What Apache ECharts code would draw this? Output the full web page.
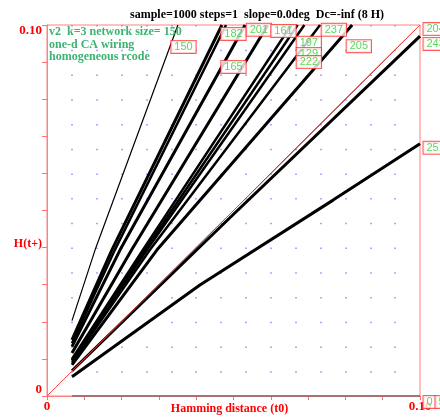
<!DOCTYPE html>
<html><head><meta charset="utf-8">
<script src="https://cdn.jsdelivr.net/npm/echarts@6/dist/echarts.min.js"></script>
<style>html,body{margin:0;padding:0;background:#fff}#c{width:440px;height:418px}</style>
</head><body><div id="c"></div>
<script>
// ---- data ----
const xTickLabels = ['0', '0.10'];
const yTickLabels = ['0', '0.10'];
const rule150 = [[0.0067,0.0203],[0.0129,0.0394],[0.0351,0.100]];
const rule182 = [[0.0067,0.0151],[0.0174,0.0394],[0.0469,0.100]];
const rule165 = [[0.0067,0.0142],[0.0182,0.0394],[0.0480,0.100]];
const rule201 = [[0.0067,0.0133],[0.0196,0.0394],[0.0531,0.100]];
const rule161 = [[0.0067,0.0116],[0.0227,0.0394],[0.0592,0.100]];
const rule197 = [[0.0067,0.0100],[0.0257,0.0394],[0.0655,0.100]];
const rule129 = [[0.0067,0.0097],[0.0263,0.0394],[0.0672,0.100]];
const rule222 = [[0.0067,0.0095],[0.0268,0.0394],[0.0690,0.100]];
const rule237 = [[0.0067,0.0090],[0.0276,0.0394],[0.0732,0.100]];
const rule205 = [[0.0067,0.0084],[0.0295,0.0394],[0.0818,0.100]];
const rule243 = [[0.0067,0.0068],[0.0500,0.0490],[0.1000,0.0970]];
const rule204 = [[0.0067,0.0067],[0.1000,0.1000]];
const rule251 = [[0.0067,0.0052],[0.0410,0.0299],[0.0767,0.0528],[0.1000,0.0680]];
const rule0   = [[0.0067,0.0],[0.1000,0.0]];
const diagonal = [[0,0],[0.1,0.1]];
// rule label boxes: name, anchor x, anchor y (data units)
const labelNames = ['150','182','165','201','161','197','129','222','237','205','204','243','251','0','5'];
const labelX = [0.0332,0.0466,0.0466,0.0534,0.0600,0.0668,0.0668,0.0668,0.0735,0.0802,0.1008,0.1008,0.1008,0.1008,0.1040];
const labelY = [0.0941,0.0976,0.0887,0.0987,0.0984,0.0952,0.0922,0.0900,0.0987,0.0943,0.0989,0.0949,0.0669,-0.0016,-0.0016];
// ---------------------------------------

const serif = '"Liberation Serif", "DejaVu Serif", serif';
const chart = echarts.init(document.getElementById('c'), null, {renderer:'canvas'});

function ruleLine(name, data, width) {
  return {name, type:'line', data, symbol:'none', silent:true, z:3,
    lineStyle:{color:'#000', width: width}, animation:false};
}

const labelData = labelNames.map((n,i)=>({name:n, value:[labelX[i], labelY[i]]}));

const option = {
  animation:false,
  backgroundColor:'#fff',
  title:{text:'sample=1000 steps=1  slope=0.0deg  Dc=-inf (8 H)', left:125, top:4,
    textStyle:{fontFamily:serif, fontWeight:'bold', fontSize:12, color:'#000'}},
  grid:{left:47, right:20, top:25, bottom:22, containLabel:false, outerBoundsMode:'none',
    show:true, borderColor:'#ff8080', borderWidth:1, backgroundColor:'#fff'},
  graphic:[{type:'text', left:49, top:26, z:10,
    style:{text:'v2  k=3 network size= 150\none-d CA wiring\nhomogeneous rcode',
      fill:'#3cb371', font:'bold 12px ' + serif, lineHeight:12.3}}],
  xAxis:[{
    type:'value', min:0, max:0.1, interval:0.01,
    axisLine:{show:true, lineStyle:{color:'#ff8080'}},
    axisTick:{show:true, length:4, inside:false, lineStyle:{color:'#ff7070'}},
    splitLine:{show:false},
    axisLabel:{showMinLabel:true, showMaxLabel:true, margin:4,
      formatter:(v)=> v===0 ? xTickLabels[0] : (Math.abs(v-0.1)<1e-9 ? xTickLabels[1] : ''),
      color:'#ff0000', fontFamily:serif, fontWeight:'bold', fontSize:13},
    name:'Hamming distance (t0)', nameLocation:'middle', nameGap:13, nameMoveOverlap:false,
    nameTextStyle:{color:'#ff0000', fontFamily:serif, fontWeight:'bold', fontSize:12, verticalAlign:'middle', padding:[0,8,0,0]}
  },{
    type:'value', min:0, max:15, interval:1, position:'bottom',
    axisLine:{show:false}, axisTick:{show:false}, axisLabel:{show:false},
    splitLine:{show:true, showMinLine:false, showMaxLine:false,
      lineStyle:{color:'#8c8cff', width:1.5, type:[1.5, 23.23], dashOffset:0}}
  }],
  yAxis:[{
    type:'value', min:0, max:0.1, interval:0.01,
    axisLine:{show:true, lineStyle:{color:'#ff8080'}},
    axisTick:{show:true, length:5, lineStyle:{color:'#ff7070'}},
    splitLine:{show:false},
    axisLabel:{showMinLabel:true, showMaxLabel:true, margin:5,
      formatter:(v)=> v===0 ? '{lo|'+yTickLabels[0]+'}' : (Math.abs(v-0.1)<1e-9 ? '{hi|'+yTickLabels[1]+'}' : ''),
      rich:{
        lo:{padding:[0,0,12,0], color:'#ff0000', fontFamily:serif, fontWeight:'bold', fontSize:13},
        hi:{padding:[12,0,0,0], color:'#ff0000', fontFamily:serif, fontWeight:'bold', fontSize:13}
      }},
    name:'{n|H(t+)}', nameLocation:'middle', nameGap:5, nameRotate:0, nameMoveOverlap:false,
    nameTextStyle:{color:'#ff0000', fontFamily:serif, fontWeight:'bold', fontSize:12,
      rich:{n:{padding:[66,0,0,0], color:'#ff0000', fontFamily:serif, fontWeight:'bold', fontSize:12}}}
  }],
  series:[
    ruleLine('150', rule150, 1.2),
    ruleLine('182', rule182, 3),
    ruleLine('165', rule165, 2.5),
    ruleLine('201', rule201, 3),
    ruleLine('161', rule161, 3),
    ruleLine('197', rule197, 2.5),
    ruleLine('129', rule129, 2.5),
    ruleLine('222', rule222, 2.5),
    ruleLine('237', rule237, 2.5),
    ruleLine('205', rule205, 3),
    ruleLine('243', rule243, 3),
    ruleLine('204', rule204, 1),
    ruleLine('251', rule251, 3),
    {name:'0', type:'line', data:rule0, symbol:'none', silent:true, z:3,
      lineStyle:{color:'#666', width:1.5}},
    {name:'identity', type:'line', data:diagonal, symbol:'none', silent:true, z:5,
      lineStyle:{color:'#ff4040', width:1}},
    {name:'labels', type:'scatter', data:labelData, symbolSize:1, clip:false, z:8,
      itemStyle:{color:'rgba(0,0,0,0)'},
      label:{show:true, position:'right', distance:0, formatter:'{b}',
        color:'#33cc33', fontFamily:'"Liberation Sans", Arial, sans-serif', fontSize:11,
        backgroundColor:'#fff', borderColor:'#ff3030', borderWidth:1, padding:[1,3,0,3]},
      labelLayout:{hideOverlap:false}}
  ]
};
chart.setOption(option);
</script></body></html>
